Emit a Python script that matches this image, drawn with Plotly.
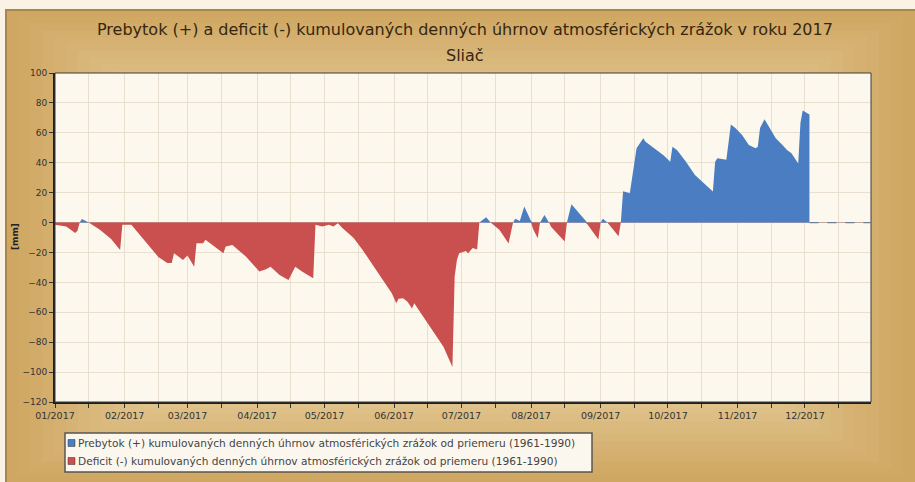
import numpy as np
import plotly.graph_objects as go

# ---------------- data ----------------
dates = [
    "2017-01-01", "2017-01-06", "2017-01-10", "2017-01-11", "2017-01-12", "2017-01-13", "2017-01-14",
    "2017-01-16", "2017-01-21", "2017-01-26", "2017-01-30", "2017-01-31", "2017-02-04", "2017-02-06",
    "2017-02-12", "2017-02-16", "2017-02-20", "2017-02-22", "2017-02-23", "2017-02-27", "2017-03-01",
    "2017-03-04", "2017-03-05", "2017-03-08", "2017-03-09", "2017-03-11", "2017-03-15", "2017-03-17",
    "2017-03-18", "2017-03-21", "2017-03-27", "2017-04-02", "2017-04-05", "2017-04-07", "2017-04-11",
    "2017-04-15", "2017-04-18", "2017-04-21", "2017-04-26", "2017-04-27", "2017-04-30", "2017-05-03",
    "2017-05-05", "2017-05-07", "2017-05-09", "2017-05-14", "2017-05-18", "2017-05-23", "2017-05-27",
    "2017-05-31", "2017-06-02", "2017-06-03", "2017-06-05", "2017-06-07", "2017-06-09", "2017-06-10",
    "2017-06-12", "2017-06-18", "2017-06-23", "2017-06-27", "2017-06-28", "2017-06-29", "2017-06-30",
    "2017-07-03", "2017-07-04", "2017-07-06", "2017-07-08", "2017-07-09", "2017-07-12", "2017-07-14",
    "2017-07-18", "2017-07-22", "2017-07-24", "2017-07-25", "2017-07-27", "2017-07-29", "2017-08-01",
    "2017-08-02", "2017-08-04", "2017-08-05", "2017-08-07", "2017-08-09", "2017-08-10", "2017-08-16",
    "2017-08-17", "2017-08-19", "2017-08-25", "2017-08-26", "2017-08-31", "2017-09-01", "2017-09-02",
    "2017-09-04", "2017-09-09", "2017-09-10", "2017-09-11", "2017-09-14", "2017-09-17", "2017-09-20",
    "2017-09-21", "2017-09-23", "2017-09-26", "2017-09-29", "2017-10-02", "2017-10-03", "2017-10-05",
    "2017-10-09", "2017-10-13", "2017-10-18", "2017-10-21", "2017-10-22", "2017-10-23", "2017-10-27",
    "2017-10-29", "2017-10-31", "2017-11-03", "2017-11-06", "2017-11-09", "2017-11-10", "2017-11-11",
    "2017-11-13", "2017-11-15", "2017-11-18", "2017-11-21", "2017-11-23", "2017-11-25", "2017-11-28",
    "2017-11-29", "2017-11-30", "2017-12-03",
]
cumulative_mm = [
    -1.5, -2.6, -7.0, -5.5, 0.0, 2.3, 1.5,
    0.0, -4.8, -11.0, -18.3, -1.5, -1.5, -5.0,
    -16.0, -23.0, -27.0, -27.0, -20.5, -25.0, -22.0,
    -29.5, -13.8, -13.8, -11.5, -13.8, -18.3, -20.5,
    -16.0, -15.0, -22.7, -32.8, -31.3, -29.5, -35.0,
    -38.4, -29.5, -32.8, -37.2, -1.5, -2.6, -1.5,
    -2.6, -0.5, -3.7, -10.4, -18.3, -29.5, -38.4,
    -47.3, -54.0, -51.0, -50.7, -53.0, -57.4, -54.0,
    -58.5, -72.0, -83.0, -96.6, -36.0, -25.0, -20.5,
    -19.0, -20.5, -17.0, -18.0, 0.0, 3.5, 0.0,
    -5.0, -14.0, 0.0, 2.5, 1.0, 10.8, 1.0,
    -4.6, -10.5, 0.0, 5.0, 0.0, -3.0, -12.6,
    0.0, 12.3, 2.0, -1.0, -11.3, 0.0, 2.5,
    0.0, -9.2, 0.0, 21.0, 19.6, 49.7, 56.4,
    54.0, 51.8, 48.5, 45.0, 40.7, 50.7, 48.5,
    40.7, 31.8, 25.0, 20.7, 40.7, 43.0, 42.0,
    65.6, 63.3, 58.6, 51.8, 49.7, 50.7, 63.3,
    69.0, 64.0, 56.4, 51.8, 48.5, 46.3, 39.5,
    66.7, 75.0, 72.3,
]
future_dates = ["2017-12-03", "2017-12-30"]
future_vals = [0, 0]

month_ticks = ["2017-%02d-01" % m for m in range(1, 13)]
month_labels = ["%02d/2017" % m for m in range(1, 13)]
mid_ticks = ["2017-%02d-16" % m for m in range(1, 13)]
y_ticks = [100, 80, 60, 40, 20, 0, -20, -40, -60, -80, -100, -120]

title_line1 = "Prebytok (+) a deficit (-) kumulovaných denných úhrnov atmosférických zrážok v roku 2017"
title_line2 = "Sliač"
name_pos = "Prebytok (+) kumulovaných denných úhrnov atmosférických zrážok od priemeru (1961-1990)"
name_neg = "Deficit (-) kumulovaných denných úhrnov atmosférických zrážok od priemeru (1961-1990)"

BLUE = "#4a7dc1"
RED = "#c9504e"
PLOT_BG = "#fdf8ee"
GRID = "#e8dfcf"

vals = np.array(cumulative_mm)
pos = np.maximum(vals, 0)
neg = np.minimum(vals, 0)

# ---------------- geometry helpers ----------------
W, H = 915, 482
L, R, T, B = 55, 871, 73, 402


def px(x):
    return (x - L) / (R - L)


def py(y):
    return (B - y) / (B - T)


fig = go.Figure()
fig.add_trace(go.Scatter(x=dates, y=neg, mode="lines", fill="tozeroy", name=name_neg,
                         line=dict(color=RED, width=0), fillcolor=RED, showlegend=False,
                         hoverinfo="x+y"))
fig.add_trace(go.Scatter(x=dates, y=pos, mode="lines", fill="tozeroy", name=name_pos,
                         line=dict(color=BLUE, width=0), fillcolor=BLUE, showlegend=False,
                         hoverinfo="x+y"))
fig.add_trace(go.Scatter(x=future_dates, y=future_vals, mode="lines",
                         line=dict(color="#6f7f98", width=1.3, dash="dash"), showlegend=False,
                         hoverinfo="skip"))

shapes = []
# outer panel with gradient (nested rectangles)
edge = np.array([0xcf, 0xa7, 0x62])
centre = np.array([0xec, 0xd6, 0xa8])
steps = 20
x0p, y0p, x1p, y1p = 6, 10, 915, 482
for i in range(steps):
    t = i / (steps - 1)
    c = edge + (centre - edge) * t
    ins = i * 7.5
    shapes.append(dict(type="rect", xref="paper", yref="paper", layer="below",
                       x0=px(x0p + ins * 1.6), x1=px(x1p - ins * 1.6),
                       y0=py(y1p - ins * 0.9), y1=py(y0p + ins * 0.9),
                       fillcolor="rgb(%d,%d,%d)" % tuple(c.astype(int)), line=dict(width=0)))
shapes.append(dict(type="rect", xref="paper", yref="paper", layer="below",
                   x0=px(x0p), x1=px(x1p + 5), y0=py(y1p + 5), y1=py(y0p),
                   fillcolor="rgba(0,0,0,0)", line=dict(color="#a88748", width=2)))
# plot background (drawn below gridlines)
shapes.append(dict(type="rect", xref="paper", yref="paper", layer="below",
                   x0=0, x1=1, y0=0, y1=1, fillcolor=PLOT_BG, line=dict(width=0)))
# plot frame
shapes.append(dict(type="rect", xref="paper", yref="paper", x0=0, x1=1, y0=0, y1=1,
                   line=dict(color="#3a3a3a", width=1)))
# legend box
lx0, lx1, ly0, ly1 = 65, 592, 433, 472
shapes.append(dict(type="rect", xref="paper", yref="paper",
                   x0=px(lx0), x1=px(lx1), y0=py(ly1), y1=py(ly0),
                   fillcolor="#fbf7ee", line=dict(color="#5a5550", width=1.5)))
for yc, col in [(443, BLUE), (461, RED)]:
    shapes.append(dict(type="rect", xref="paper", yref="paper",
                       x0=px(68), x1=px(75), y0=py(yc + 3.5), y1=py(yc - 3.5),
                       fillcolor=col, line=dict(color="#333", width=0.5)))

annotations = [
    dict(text=title_line1, x=px(465), y=py(30), xref="paper", yref="paper", showarrow=False,
         font=dict(family="DejaVu Sans", size=16, color="#35270f"), xanchor="center", yanchor="middle"),
    dict(text=title_line2, x=px(465), y=py(55), xref="paper", yref="paper", showarrow=False,
         font=dict(family="DejaVu Sans", size=16, color="#35270f"), xanchor="center", yanchor="middle"),
    dict(text="<b>[mm]</b>", x=px(15), y=py(237), xref="paper", yref="paper", showarrow=False,
         textangle=-90, font=dict(family="DejaVu Sans", size=9, color="#222"),
         xanchor="center", yanchor="middle"),
    dict(text=name_pos, x=px(76), y=py(443), xref="paper", yref="paper", showarrow=False,
         font=dict(family="DejaVu Sans", size=10.6, color="#444"), xanchor="left", yanchor="middle"),
    dict(text=name_neg, x=px(76), y=py(461), xref="paper", yref="paper", showarrow=False,
         font=dict(family="DejaVu Sans", size=10.6, color="#444"), xanchor="left", yanchor="middle"),
]

fig.update_layout(
    width=W, height=H,
    margin=dict(l=L, r=W - R, t=T, b=H - B, pad=0),
    paper_bgcolor="#f9f2e5",
    plot_bgcolor=PLOT_BG,
    shapes=shapes,
    annotations=annotations,
    showlegend=False,
    xaxis=dict(
        type="date", range=["2017-01-01", "2017-12-30 10:00"],
        tickmode="array", tickvals=month_ticks, ticktext=month_labels,
        ticks="outside", ticklen=4, tickcolor="#333", tickwidth=1,
        showgrid=True, gridcolor=GRID, gridwidth=1,
        minor=dict(tickmode="array", tickvals=mid_ticks, ticks="outside", ticklen=4,
                   tickcolor="#333", showgrid=True, gridcolor=GRID, gridwidth=1),
        showline=True, linecolor="#1e1e1e", linewidth=2,
        tickfont=dict(family="DejaVu Sans", size=9.5, color="#333"),
        zeroline=False,
    ),
    yaxis=dict(
        range=[-120, 100], tickmode="array", tickvals=y_ticks,
        ticks="outside", ticklen=4, tickcolor="#333",
        showgrid=True, gridcolor=GRID, gridwidth=1,
        showline=True, linecolor="#1e1e1e", linewidth=2,
        zeroline=True, zerolinecolor="#c0a8a0", zerolinewidth=1,
        tickfont=dict(family="DejaVu Sans", size=9, color="#333"),
    ),
)

fig.write_html(
    "out.html",
    config={"displayModeBar": False},
    post_script="document.body.style.margin='0';document.body.style.background='#f9f2e5';",
)
